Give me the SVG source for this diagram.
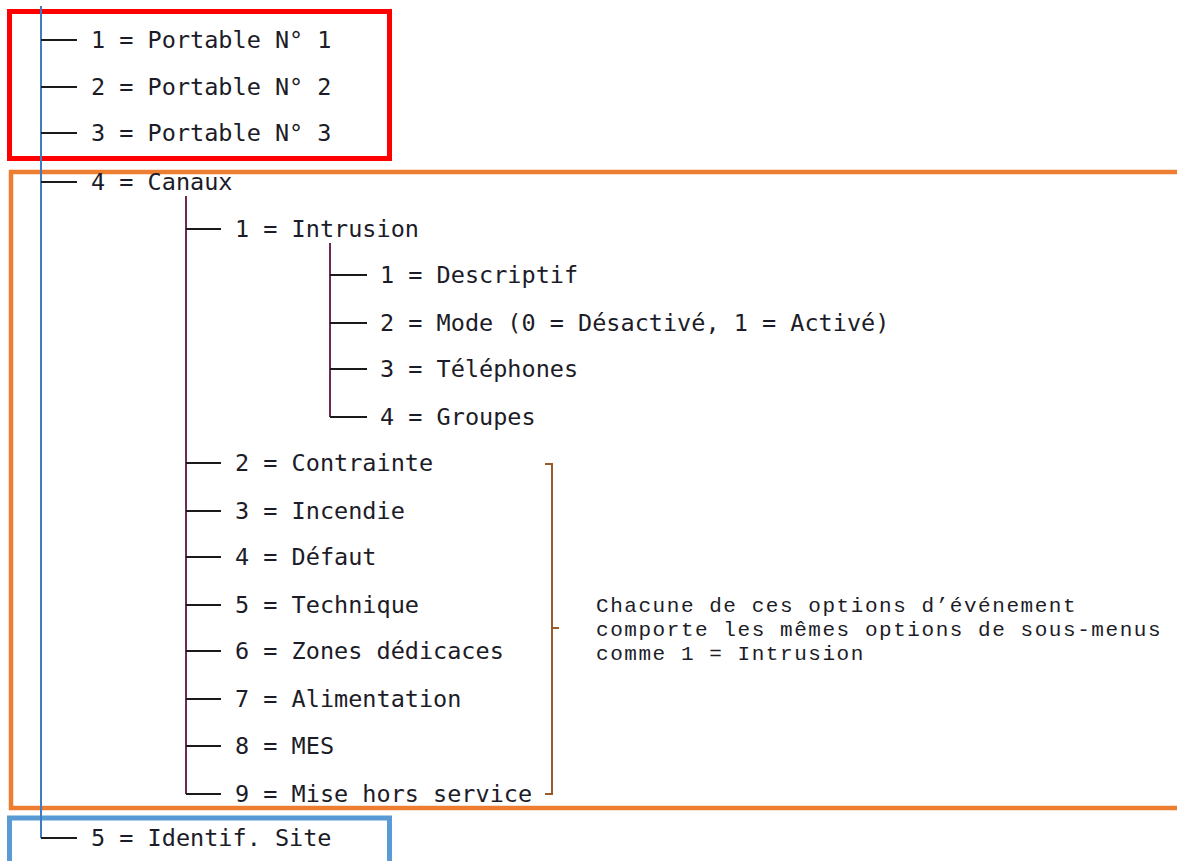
<svg xmlns="http://www.w3.org/2000/svg" width="1177" height="861" viewBox="0 0 1177 861">
<style>
.t{font-family:"DejaVu Sans Mono","Liberation Mono",monospace;font-size:23.5px;fill:#1c1c28}
.n{font-family:"Liberation Mono","DejaVu Sans Mono",monospace;font-size:21px;letter-spacing:1.55px;fill:#1c1c28}
.tk{stroke:#1a1a1a;stroke-width:2;fill:none}
.l1{stroke:#3f7cc4;stroke-width:2;fill:none}
.l2{stroke:#6e2a55;stroke-width:2;fill:none}
.br{stroke:#9a5a2a;stroke-width:2;fill:none}
</style>
<rect width="1177" height="861" fill="#ffffff"/>
<g id="frames">
<rect x="9.5" y="11.5" width="380" height="147" fill="none" stroke="#ff0000" stroke-width="5"/>
<rect x="11" y="172" width="1180" height="636" fill="none" stroke="#ed7d31" stroke-width="4.5"/>
<rect x="9.5" y="818" width="380" height="60" fill="none" stroke="#5b9bd5" stroke-width="5"/>
</g>
<g id="connectors">
<path class="l1" d="M41 6 V838"/>
<path class="tk" d="M41 40 H77 M41 87 H77 M41 133 H77 M41 182 H77 M41 838 H77"/>
<path class="l2" d="M186 196 V794"/>
<path class="tk" d="M186 229 H221 M186 463 H221 M186 511 H221 M186 557 H221 M186 605 H221 M186 651 H221 M186 699 H221 M186 746 H221 M186 794 H221"/>
<path class="l2" d="M330 243 V417"/>
<path class="tk" d="M330 275 H367 M330 323 H367 M330 369 H367 M330 417 H367"/>
<path class="br" d="M545 464 H552 V794 H545 M552 628 H559"/>
</g>
<g id="n1"><text class="t" x="91" y="48">1 = Portable N° 1</text></g>
<g id="n2"><text class="t" x="91" y="95">2 = Portable N° 2</text></g>
<g id="n3"><text class="t" x="91" y="141">3 = Portable N° 3</text></g>
<g id="n4"><text class="t" x="91" y="190">4 = Canaux</text></g>
<g id="n41"><text class="t" x="235" y="237">1 = Intrusion</text></g>
<g id="n411"><text class="t" x="380" y="283">1 = Descriptif</text></g>
<g id="n412"><text class="t" x="380" y="331">2 = Mode (0 = Désactivé, 1 = Activé)</text></g>
<g id="n413"><text class="t" x="380" y="377">3 = Téléphones</text></g>
<g id="n414"><text class="t" x="380" y="425">4 = Groupes</text></g>
<g id="n42"><text class="t" x="235" y="471">2 = Contrainte</text></g>
<g id="n43"><text class="t" x="235" y="519">3 = Incendie</text></g>
<g id="n44"><text class="t" x="235" y="565">4 = Défaut</text></g>
<g id="n45"><text class="t" x="235" y="613">5 = Technique</text></g>
<g id="n46"><text class="t" x="235" y="659">6 = Zones dédicaces</text></g>
<g id="n47"><text class="t" x="235" y="707">7 = Alimentation</text></g>
<g id="n48"><text class="t" x="235" y="754">8 = MES</text></g>
<g id="n49"><text class="t" x="235" y="802">9 = Mise hors service</text></g>
<g id="n5"><text class="t" x="91" y="846">5 = Identif. Site</text></g>
<g id="note">
<text class="n" x="596" y="612">Chacune de ces options d’événement</text>
<text class="n" x="596" y="636">comporte les mêmes options de sous-menus</text>
<text class="n" x="596" y="660">comme 1 = Intrusion</text>
</g>
</svg>
